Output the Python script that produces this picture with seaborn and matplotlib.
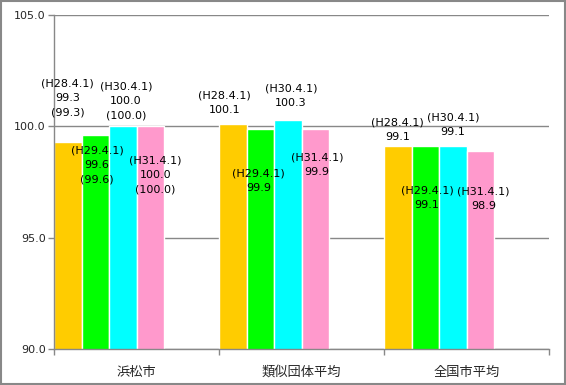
import pandas as pd
import numpy as np
import matplotlib
matplotlib.use("Agg")
import matplotlib.pyplot as plt
import seaborn as sns
from matplotlib.patches import Rectangle

# Data
categories = ["浜松市", "類似団体平均", "全国市平均"]
series = ["H28.4.1", "H29.4.1", "H30.4.1", "H31.4.1"]
hamamatsu = [99.3, 99.6, 100.0, 100.0]
ruiji = [100.1, 99.9, 100.3, 99.9]
zenkoku = [99.1, 99.1, 99.1, 98.9]
colors = ["#FFCC00", "#00FF00", "#00FFFF", "#FF99CC"]

# label placement (offset of label centre from bar top, in data units)
label_dy = [
    [1.97, -1.34, 1.14, -2.19],
    [0.95, -2.35, 1.06, -1.64],
    [0.74, -2.32, 0.96, -2.16],
]
label_dx = [
    [0.0, 0.01, 0.02, 0.03],
    [-0.05, -0.01, 0.02, 0.01],
    [0.0, 0.01, 0.0, 0.02],
]

rows = []
for cat, vals in zip(categories, [hamamatsu, ruiji, zenkoku]):
    for s, v in zip(series, vals):
        rows.append({"cat": cat, "series": s, "value": v})
df = pd.DataFrame(rows)

sns.set_style("white")
plt.rcParams["font.family"] = ["DejaVu Sans", "Noto Sans CJK JP"]

fig = plt.figure(figsize=(5.66, 3.85), dpi=100)
ax = fig.add_axes([54 / 566, 1 - 349 / 385, 495 / 566, 334 / 385])

width = 0.667
sns.barplot(data=df, x="cat", y="value", hue="series", hue_order=series,
            palette=colors, width=width, dodge=True, ax=ax,
            edgecolor="white", linewidth=1, legend=False, saturation=1,
            errorbar=None, bottom=0)

# value labels
bw = width / len(series)
for i, vals in enumerate([hamamatsu, ruiji, zenkoku]):
    for j, v in enumerate(vals):
        xc = i - width / 2 + bw * (j + 0.5) + label_dx[i][j]
        txt = f"({series[j]})\n{v:.1f}"
        if i == 0:
            txt += f"\n({v:.1f})"
        ax.text(xc, v + label_dy[i][j], txt, ha="center", va="center",
                fontsize=8, linespacing=1.55, color="black")

ax.set_ylim(90, 105)
ax.set_yticks([90, 95, 100, 105])
ax.set_yticklabels([f"{t:.1f}" for t in [90, 95, 100, 105]], fontsize=8)
ax.yaxis.grid(True, color="#888888", linewidth=1)
ax.set_axisbelow(True)

ax.set_xlim(-width / 2, len(categories) - width / 2)
ax.set_xticks([i + (1 - width) / 2 for i in range(len(categories))])
ax.set_xticklabels(categories, fontsize=9.5,
                   family=["Noto Sans CJK JP", "DejaVu Sans"])
ax.set_xticks([i - width / 2 for i in range(len(categories) + 1)], minor=True)
ax.tick_params(axis="x", which="major", length=0, pad=12, bottom=True)
ax.tick_params(axis="x", which="minor", length=4, width=1, color="#888888",
               direction="out", bottom=True)
ax.tick_params(axis="y", length=4, width=1, color="#888888", direction="out",
               left=True, pad=2)
ax.set_xlabel("")
ax.set_ylabel("")

for side in ["top", "right"]:
    ax.spines[side].set_visible(False)
for side in ["left", "bottom"]:
    ax.spines[side].set_color("#888888")
    ax.spines[side].set_linewidth(1)

fig.patches.append(Rectangle((0.001, 0.002), 0.997, 0.996, transform=fig.transFigure,
                             fill=False, edgecolor="#888888", linewidth=1.5))

fig.savefig("out.png", dpi=100)
